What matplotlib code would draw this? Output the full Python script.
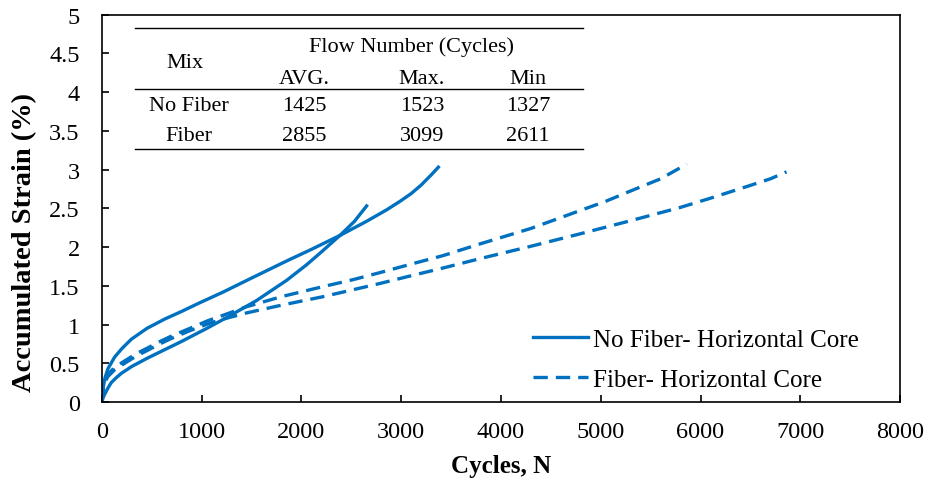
import numpy as np
import matplotlib
matplotlib.use("Agg")
from matplotlib import pyplot as plt

# curves (cycles, accumulated strain %)
nf1_x = [0, 3, 10, 30, 60, 127, 200, 294, 450, 628, 800, 962, 1216, 1500, 1851, 2100, 2386,
         2650, 2854, 2988, 3100, 3200, 3300, 3372]
nf1_y = [0, 0.08, 0.17, 0.31, 0.43, 0.58, 0.69, 0.81, 0.95, 1.07, 1.17, 1.27, 1.42, 1.60, 1.82,
         1.97, 2.15, 2.33, 2.48, 2.59, 2.69, 2.80, 2.93, 3.03]
nf2_x = [0, 10, 27, 60, 93, 140, 194, 300, 461, 620, 795, 1050, 1250, 1550, 1851, 2050, 2185,
         2386, 2530, 2653]
nf2_y = [0, 0.05, 0.10, 0.18, 0.25, 0.31, 0.37, 0.46, 0.57, 0.67, 0.78, 0.95, 1.09, 1.31, 1.57,
         1.77, 1.92, 2.15, 2.33, 2.53]
f1_x = [0, 5, 15, 35, 60, 130, 227, 340, 461, 580, 695, 880, 1063, 1216, 1450, 1800, 2218, 2520,
        2787, 3100, 3421, 3789, 4300, 4792, 5050, 5293, 5600, 5862]
f1_y = [0, 0.10, 0.20, 0.29, 0.36, 0.45, 0.53, 0.62, 0.70, 0.78, 0.85, 0.95, 1.05, 1.12, 1.23,
        1.36, 1.49, 1.58, 1.67, 1.78, 1.89, 2.04, 2.24, 2.47, 2.59, 2.72, 2.88, 3.07]
f2_x = [0, 5, 15, 35, 60, 130, 227, 340, 461, 580, 695, 880, 1063, 1216, 1450, 1800, 2218, 2520,
        2787, 3100, 3421, 3789, 4300, 4792, 5300, 5795, 6100, 6463, 6700, 6862]
f2_y = [0, 0.09, 0.18, 0.27, 0.33, 0.42, 0.50, 0.59, 0.67, 0.75, 0.82, 0.92, 1.01, 1.07, 1.15,
        1.25, 1.36, 1.45, 1.53, 1.63, 1.73, 1.85, 2.01, 2.17, 2.34, 2.51, 2.63, 2.78, 2.88, 2.97]

mixes = ["No Fiber", "Fiber"]
fn_avg = [1425, 2855]
fn_max = [1523, 3099]
fn_min = [1327, 2611]

blue = "#0070C0"
plt.rcParams['font.family'] = ['Liberation Serif', 'DejaVu Serif']

fig, ax = plt.subplots(figsize=(9.32, 4.85), dpi=100)
fig.subplots_adjust(left=0.1094, right=0.9657, top=0.968, bottom=0.169)

ax.plot(nf1_x, nf1_y, color=blue, lw=2.4, label="No Fiber- Horizontal Core")
ax.plot(nf2_x, nf2_y, color=blue, lw=2.4)
ax.plot(f1_x, f1_y, color=blue, lw=2.4, ls=(0, (4.3, 2.4)), label="Fiber- Horizontal Core")
ax.plot(f2_x, f2_y, color=blue, lw=2.4, ls=(0, (4.3, 2.4)))

ax.set_xlim(0, 8000)
ax.set_ylim(0, 5)
ax.set_xticks(np.arange(0, 8001, 1000))
ax.set_yticks(np.arange(0, 5.01, 0.5))
ax.set_yticklabels(["0", "0.5", "1", "1.5", "2", "2.5", "3", "3.5", "4", "4.5", "5"])
ax.tick_params(labelsize=17.5, direction="in", length=5, width=1.2)
ax.tick_params(axis="x", pad=14)
ax.tick_params(axis="y", pad=16)
for s in ax.spines.values():
    s.set_linewidth(1.2)
ax.set_xlabel("Cycles, N", fontsize=18, fontweight="bold")
ax.set_ylabel("Accumulated Strain (%)", fontsize=20.5, fontweight="bold")
ax.xaxis.set_label_coords(0.5, -0.133)
ax.yaxis.set_label_coords(-0.081, 0.415)

leg = ax.legend(loc="lower left", bbox_to_anchor=(0.540, 0.028), frameon=False,
                fontsize=18, handlelength=2.2, handletextpad=0.2, labelspacing=0.7,
                borderpad=0, borderaxespad=0)

# flow number table
tx0, tx1 = 0.041, 0.603
for yy in [0.964, 0.808, 0.653]:
    ax.plot([tx0, tx1], [yy, yy], transform=ax.transAxes, color="black", lw=1)
cols = [0.254, 0.401, 0.534]
fs = 16
ax.text(0.104, 0.877, "Mix", transform=ax.transAxes, ha="center", va="center", fontsize=fs)
ax.text(0.388, 0.919, "Flow Number (Cycles)", transform=ax.transAxes, ha="center", va="center", fontsize=fs)
for c, h in zip(cols, ["AVG.", "Max.", "Min"]):
    ax.text(c, 0.834, h, transform=ax.transAxes, ha="center", va="center", fontsize=fs)
for r, yy in enumerate([0.764, 0.687]):
    ax.text(0.109, yy, mixes[r], transform=ax.transAxes, ha="center", va="center", fontsize=fs)
    for c, v in zip(cols, [fn_avg[r], fn_max[r], fn_min[r]]):
        ax.text(c, yy, str(v), transform=ax.transAxes, ha="center", va="center", fontsize=fs)

fig.savefig("out.png", dpi=100)
